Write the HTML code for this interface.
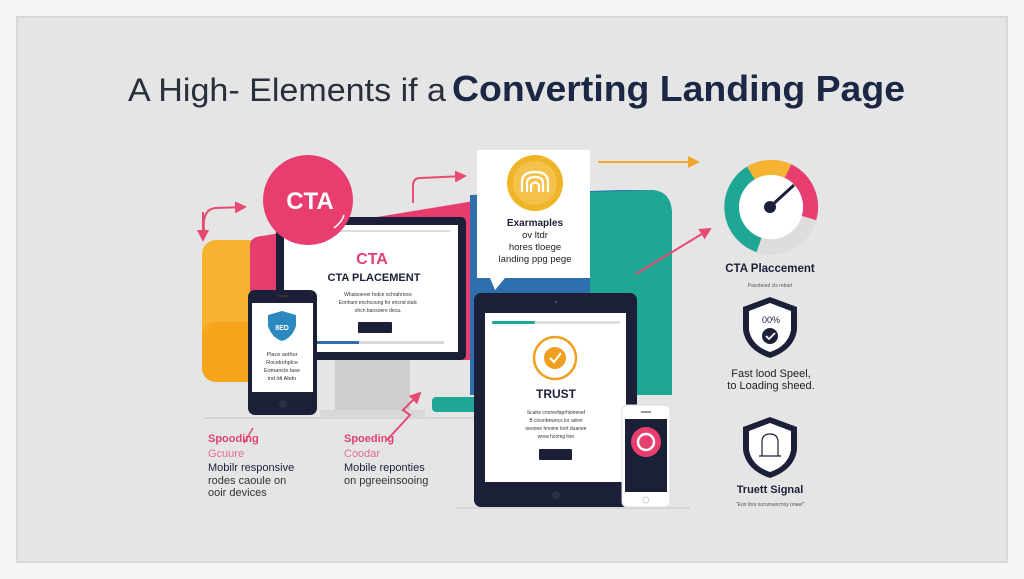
<!DOCTYPE html>
<html><head><meta charset="utf-8"><style>
html,body{margin:0;padding:0;width:1024px;height:579px;overflow:hidden;background:#f5f5f5}
svg{display:block}
text{font-family:"Liberation Sans",sans-serif}
</style></head><body>
<svg width="1024" height="579" viewBox="0 0 1024 579" xmlns="http://www.w3.org/2000/svg">
<defs>
<marker id="ap" markerWidth="6" markerHeight="6" refX="5" refY="3" orient="auto"><path d="M0,0 L6,3 L0,6 z" fill="#e84a72"/></marker>
<marker id="ao" markerWidth="6" markerHeight="6" refX="5" refY="3" orient="auto"><path d="M0,0 L6,3 L0,6 z" fill="#f0a830"/></marker>
</defs>
<rect x="0" y="0" width="1024" height="579" fill="#f4f4f4"/>
<rect x="17" y="17" width="990" height="545" fill="#e5e5e5" stroke="#d8d8d8" stroke-width="2"/>
<!-- title -->
<text x="128" y="101" font-size="32" fill="#2a2f3d" font-weight="300" textLength="318" lengthAdjust="spacingAndGlyphs">A High- Elements if a</text>
<text x="452" y="101" font-size="36" fill="#1b2744" font-weight="bold" textLength="453" lengthAdjust="spacingAndGlyphs">Converting Landing Page</text>

<!-- background blocks -->
<rect x="202" y="240" width="60" height="142" rx="14" fill="#f6b331"/>
<rect x="202" y="322" width="60" height="60" rx="14" fill="#f5a41c"/>
<path d="M250 245 Q250 237 262 236 L480 200 L480 360 L250 360 Z" fill="#e63d6e"/>
<path d="M470 195 L620 190 L650 190 Q672 190 672 215 L672 395 L470 395 Z" fill="#2f6fae"/>
<path d="M590 192 L650 190 Q672 190 672 215 L672 395 L590 395 Z" fill="#1ea795"/>
<rect x="432" y="397" width="50" height="15" rx="4" fill="#1ea795"/>
<line x1="205" y1="418" x2="665" y2="418" stroke="#d6d6d6" stroke-width="2"/>

<!-- monitor -->
<rect x="335" y="360" width="75" height="55" fill="#cfcfcf"/>
<rect x="320" y="410" width="105" height="8" fill="#d8d8d8"/>
<rect x="276" y="217" width="190" height="143" rx="5" fill="#1b2038"/>
<rect x="284" y="225" width="174" height="127" fill="#ffffff"/>
<line x1="288" y1="231" x2="450" y2="231" stroke="#dcdcdc" stroke-width="2"/>
<text x="372" y="264" font-size="16" fill="#e0416f" font-weight="bold" text-anchor="middle">CTA</text>
<text x="374" y="281" font-size="11" fill="#1b2038" font-weight="bold" text-anchor="middle">CTA PLACEMENT</text>
<text x="378" y="296" font-size="5" fill="#333" text-anchor="middle">Whatsoever fodce ochrahrioce</text>
<text x="378" y="304" font-size="5" fill="#333" text-anchor="middle">Eonhum enchcoung for encnd stalc</text>
<text x="378" y="312" font-size="5" fill="#333" text-anchor="middle">ohcn bansoere deca.</text>
<rect x="358" y="322" width="34" height="11" rx="1" fill="#1b2038"/>
<rect x="316" y="341" width="128" height="3" fill="#d8d8d8"/>
<rect x="316" y="341" width="43" height="3" fill="#2f6fae"/>

<!-- CTA circle -->
<circle cx="308" cy="200" r="45" fill="#e83e6f"/>
<text x="310" y="209" font-size="24" fill="#fff" font-weight="bold" text-anchor="middle">CTA</text>
<path d="M334 228 Q342 222 344 215" stroke="#fff" stroke-width="1.5" fill="none"/>

<!-- left phone -->
<rect x="248" y="290" width="69" height="125" rx="7" fill="#1b2038"/>
<rect x="252" y="303" width="61" height="89" fill="#fff"/>
<line x1="278" y1="296" x2="288" y2="296" stroke="#444" stroke-width="1"/>
<path d="M268 315 L282 311 L296 315 L296 326 Q292 338 282 341 Q272 338 268 326 Z" fill="#2c89c0"/>
<text x="282" y="330" font-size="7" fill="#fff" font-weight="bold" text-anchor="middle">8ED</text>
<text x="282" y="356" font-size="5.5" fill="#333" text-anchor="middle">Place aothur</text>
<text x="282" y="364" font-size="5.5" fill="#333" text-anchor="middle">Rocekohplce</text>
<text x="282" y="372" font-size="5.5" fill="#333" text-anchor="middle">Eomancle lase</text>
<text x="282" y="380" font-size="5.5" fill="#333" text-anchor="middle">ind ldt Abdn</text>
<circle cx="283" cy="404" r="4" fill="#2a3048"/>

<!-- examples card -->
<path d="M477 150 L590 150 L590 278 L505 278 L495 290 L490 278 L477 278 Z" fill="#fff"/>
<circle cx="535" cy="183" r="28" fill="#f0b429"/>
<circle cx="535" cy="183" r="22" fill="#f4c24a"/>
<path d="M522 192 L522 182 Q522 172 535 172 Q548 172 548 182 L548 192 M527 192 L527 183 Q527 177 535 177 Q543 177 543 183 L543 192 M531 192 L531 185 Q535 180 539 185 L539 192" stroke="#fff" stroke-width="2.2" fill="none"/>
<text x="535" y="226" font-size="10" fill="#1b2038" font-weight="bold" text-anchor="middle">Exarmaples</text>
<text x="535" y="238" font-size="9.5" fill="#222" text-anchor="middle">ov ltdr</text>
<text x="535" y="250" font-size="9.5" fill="#222" text-anchor="middle">hores tloege</text>
<text x="535" y="262" font-size="9.5" fill="#222" text-anchor="middle">landing ppg pege</text>

<!-- tablet -->
<rect x="474" y="293" width="163" height="214" rx="7" fill="#1b2038"/>
<rect x="485" y="313" width="141" height="169" fill="#fff"/>
<circle cx="556" cy="302" r="1.2" fill="#555"/>
<rect x="492" y="321" width="128" height="3" rx="1.5" fill="#ddd"/>
<rect x="492" y="321" width="43" height="3" rx="1.5" fill="#1ea795"/>
<circle cx="555" cy="358" r="21" fill="none" stroke="#f0a020" stroke-width="2.5"/>
<circle cx="555" cy="358" r="11" fill="#f0a020"/>
<path d="M550 358 L554 362 L561 353" stroke="#fff" stroke-width="2" fill="none"/>
<text x="556" y="398" font-size="12" fill="#1b2038" font-weight="bold" text-anchor="middle">TRUST</text>
<text x="556" y="414" font-size="5" fill="#333" text-anchor="middle">Scahe cnorevfaprhioirenef</text>
<text x="556" y="422" font-size="5" fill="#333" text-anchor="middle">B ciconbewncs lor adrer</text>
<text x="556" y="430" font-size="5" fill="#333" text-anchor="middle">oeoone hnoine lorrt duanee</text>
<text x="556" y="438" font-size="5" fill="#333" text-anchor="middle">wrea hcomg lion</text>
<rect x="539" y="449" width="33" height="11" rx="1" fill="#1b2038"/>
<circle cx="556" cy="495" r="4" fill="#2a3048"/>
<line x1="455" y1="508" x2="690" y2="508" stroke="#d6d6d6" stroke-width="2"/>

<!-- small phone -->
<rect x="622" y="405" width="48" height="102" rx="5" fill="#fff" stroke="#ddd"/>
<rect x="625" y="419" width="42" height="73" fill="#1b2038"/>
<line x1="641" y1="412" x2="651" y2="412" stroke="#333"/>
<circle cx="646" cy="442" r="15" fill="#e83e6f"/>
<circle cx="646" cy="442" r="8" fill="none" stroke="#fff" stroke-width="2.5"/>
<circle cx="646" cy="500" r="3" fill="none" stroke="#ccc"/>

<!-- arrows -->
<path d="M205 237 Q200 210 215 208 L245 207" stroke="#e84a72" stroke-width="2" fill="none" marker-end="url(#ap)"/>
<path d="M203 212 L203 240" stroke="#e84a72" stroke-width="2" fill="none" marker-end="url(#ap)"/>
<path d="M413 203 L413 186 Q413 178 420 178 L465 176" stroke="#e84a72" stroke-width="2" fill="none" marker-end="url(#ap)"/>
<path d="M598 162 L698 162" stroke="#f0a830" stroke-width="2" fill="none" marker-end="url(#ao)"/>
<path d="M636 274 L710 229" stroke="#e84a72" stroke-width="2" fill="none" marker-end="url(#ap)"/>
<path d="M387 440 L410 415 L403 410 L420 393" stroke="#e84a72" stroke-width="2" fill="none" marker-end="url(#ap)"/>
<path d="M253 428 L244 443" stroke="#e84a72" stroke-width="1.5" fill="none"/>

<!-- left texts -->
<text x="208" y="442" font-size="11" fill="#e0416f" font-weight="bold">Spooding</text>
<text x="208" y="457" font-size="11" fill="#e07090">Gcuure</text>
<text x="208" y="471" font-size="11" fill="#1b2038">Mobilr responsive</text>
<text x="208" y="484" font-size="11" fill="#333">rodes caoule on</text>
<text x="208" y="496" font-size="11" fill="#333">ooir devices</text>
<text x="344" y="442" font-size="11" fill="#e0416f" font-weight="bold">Spoeding</text>
<text x="344" y="457" font-size="11" fill="#e07090">Coodar</text>
<text x="344" y="471" font-size="11" fill="#1b2038">Mobile reponties</text>
<text x="344" y="484" font-size="11" fill="#333">on pgreeinsooing</text>

<!-- gauge -->
<circle cx="771" cy="207" r="40" fill="none" stroke="#ddd" stroke-width="15"/>
<path d="M759 245 A40 40 0 0 1 751 173" stroke="#1ea795" stroke-width="15" fill="none"/>
<path d="M751 173 A40 40 0 0 1 788 171" stroke="#f6b331" stroke-width="15" fill="none"/>
<path d="M788 171 A40 40 0 0 1 809 218" stroke="#e83e6f" stroke-width="15" fill="none"/>
<circle cx="771" cy="207" r="32" fill="#fff"/>
<line x1="770" y1="207" x2="794" y2="185" stroke="#1b2038" stroke-width="3"/>
<circle cx="770" cy="207" r="6" fill="#1b2038"/>
<text x="770" y="272" font-size="11.5" fill="#1b2038" font-weight="bold" text-anchor="middle">CTA Placcement</text>
<text x="770" y="287" font-size="5" fill="#555" text-anchor="middle">Pasobeed cls rebart</text>

<!-- shield 1 -->
<path d="M770 297 L797 307 L797 330 Q794 350 770 358 Q746 350 743 330 L743 307 Z" fill="#1b2038"/>
<path d="M770 303 L791 311 L791 330 Q788 346 770 352 Q752 346 749 330 L749 311 Z" fill="#fff"/>
<text x="771" y="323" font-size="9" fill="#1b2038" text-anchor="middle">00%</text>
<circle cx="770" cy="336" r="8" fill="#1b2038"/>
<path d="M766 336 L769 339 L775 333" stroke="#fff" stroke-width="1.8" fill="none"/>
<text x="771" y="377" font-size="11" fill="#222" text-anchor="middle">Fast lood Speel,</text>
<text x="771" y="389" font-size="11" fill="#222" text-anchor="middle">to Loading sheed.</text>

<!-- shield 2 -->
<path d="M770 417 L797 427 L797 450 Q794 470 770 478 Q746 470 743 450 L743 427 Z" fill="#1b2038"/>
<path d="M770 423 L791 431 L791 450 Q788 466 770 472 Q752 466 749 450 L749 431 Z" fill="#fff"/>
<path d="M762 456 L762 442 Q762 434 770 434 Q778 434 778 442 L778 456 Z M759 456 L781 456" stroke="#1b2038" stroke-width="1.2" fill="none"/>
<text x="770" y="493" font-size="11" fill="#1b2038" font-weight="bold" text-anchor="middle">Truett Signal</text>
<text x="770" y="506" font-size="5" fill="#555" font-style="italic" text-anchor="middle">"Eon fore soronsencnsy oneel"</text>
</svg>
</body></html>
